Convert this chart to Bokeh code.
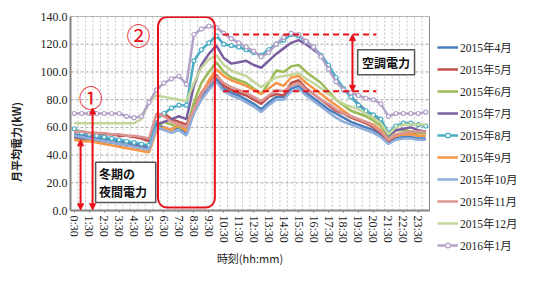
from bokeh.plotting import figure
from bokeh.models import (Range1d, FixedTicker, NumeralTickFormatter, Legend,
                          BoxAnnotation, Label, Arrow, NormalHead)
from bokeh.embed import file_html
from bokeh.resources import INLINE

times = ["0:30", "1:00", "1:30", "2:00", "2:30", "3:00", "3:30", "4:00", "4:30", "5:00",
         "5:30", "6:00", "6:30", "7:00", "7:30", "8:00", "8:30", "9:00", "9:30", "10:00",
         "10:30", "11:00", "11:30", "12:00", "12:30", "13:00", "13:30", "14:00", "14:30", "15:00",
         "15:30", "16:00", "16:30", "17:00", "17:30", "18:00", "18:30", "19:00", "19:30", "20:00",
         "20:30", "21:00", "21:30", "22:00", "22:30", "23:00", "23:30", "24:00"]

months = ["2015年4月", "2015年5月", "2015年6月", "2015年7月", "2015年8月",
          "2015年9月", "2015年10月", "2015年11月", "2015年12月", "2016年1月"]

apr = [55, 54, 53, 52, 52, 51, 50, 49, 48, 47, 46,
       62, 60, 58, 60, 56, 72, 82, 88, 95,
       88, 85, 83, 80, 77, 73, 78, 82, 82, 88, 90, 85,
       81, 77, 73, 70, 67, 64, 62, 60, 58, 55, 49, 52, 53, 53, 52, 52]
may = [57, 57, 56, 56, 55, 55, 54, 54, 53, 52, 50,
       68, 70, 66, 64, 62, 74, 85, 92, 98,
       90, 87, 85, 83, 80, 77, 82, 84, 83, 92, 94, 88,
       84, 80, 76, 72, 70, 67, 65, 63, 60, 56, 50, 54, 55, 55, 56, 56]
jun = [52, 52, 51, 50, 50, 49, 48, 47, 46, 45, 44,
       60, 64, 62, 60, 58, 78, 92, 100, 107,
       100, 96, 94, 92, 88, 84, 92, 101, 100, 104, 105, 100,
       96, 92, 86, 80, 76, 72, 70, 68, 65, 61, 53, 58, 58, 57, 56, 56]
jul = [53, 52, 52, 51, 50, 49, 48, 47, 47, 46, 45,
       62, 64, 66, 68, 66, 90, 105, 113, 119,
       110, 106, 107, 108, 105, 103, 108, 113, 117, 121, 123, 120,
       116, 112, 104, 95, 88, 82, 77, 72, 68, 64, 54, 58, 59, 60, 58, 57]
aug = [59, 56, 55, 54, 53, 52, 51, 50, 49, 48, 47,
       66, 70, 74, 76, 76, 108, 116, 121, 126,
       120, 119, 118, 116, 114, 112, 116, 120, 123, 127, 126, 122,
       118, 112, 105, 96, 88, 82, 76, 72, 69, 66, 56, 61, 63, 63, 62, 61]
sep = [51, 50, 50, 49, 48, 47, 46, 45, 44, 43, 42,
       58, 60, 58, 62, 57, 72, 84, 94, 102,
       97, 94, 92, 90, 87, 84, 88, 92, 90, 96, 97, 92,
       88, 84, 80, 76, 72, 68, 66, 64, 62, 58, 51, 54, 55, 55, 54, 54]
oct_ = [54, 53, 52, 51, 50, 49, 48, 47, 46, 45, 44,
        60, 58, 56, 58, 54, 70, 80, 87, 93,
        86, 83, 81, 78, 75, 71, 76, 80, 80, 86, 88, 83,
        79, 75, 71, 67, 64, 62, 60, 58, 56, 53, 48, 51, 52, 52, 51, 51]
nov = [57, 57, 56, 56, 56, 55, 55, 54, 54, 53, 52,
       70, 68, 64, 62, 60, 73, 84, 91, 97,
       92, 89, 87, 85, 82, 79, 83, 87, 86, 90, 92, 87,
       84, 80, 77, 73, 70, 68, 66, 64, 61, 57, 51, 55, 56, 57, 57, 57]
dec = [63, 63, 63, 63, 63, 63, 63, 63, 63, 66, 78,
       83, 82, 81, 80, 79, 92, 103, 109, 112,
       105, 101, 99, 97, 93, 89, 93, 96, 97, 98, 99, 95,
       92, 88, 84, 80, 77, 75, 73, 70, 67, 63, 55, 60, 62, 62, 62, 62]
jan = [70, 70, 70, 70, 70, 70, 70, 68, 67, 68, 78,
       87, 92, 95, 97, 91, 127, 131, 133, 132,
       128, 124, 121, 118, 115, 111, 114, 120, 125, 128, 127, 122,
       118, 111, 102, 93, 87, 85, 83, 81, 80, 77, 68, 70, 70, 70, 70, 71]

series = [apr, may, jun, jul, aug, sep, oct_, nov, dec, jan]
colors = ["#4A7DBA", "#C0504D", "#9BBB59", "#7B5FA0", "#4BACC6",
          "#F79646", "#8FAEDB", "#DA9694", "#C3D69B", "#B3A2C7"]
with_markers = [False, False, False, False, True, False, False, False, False, True]
y_ticks = [0, 20, 40, 60, 80, 100, 120, 140]

RED = "#E8101A"
SERIF = "'Liberation Serif', 'Noto Sans CJK JP'"
CJK = "Noto Sans CJK JP"

x = list(range(len(times)))
x_lo, x_hi = -0.5, len(times) - 0.5
y_lo, y_hi = y_ticks[0], y_ticks[-1]

# frame covers the plot area plus the legend/tick-label zone (so the legend is not clipped)
p = figure(width=518, height=267, output_backend="svg", toolbar_location=None,
           x_range=Range1d(x_lo, 59.4), y_range=Range1d(-41.1, y_hi),
           min_border_left=70, min_border_right=0, min_border_top=16, min_border_bottom=0)
p.background_fill_color = "white"
p.border_fill_color = "white"
p.outline_line_color = None
p.xgrid.visible = False
p.ygrid.visible = False

# gridlines inside the plot area
p.segment(x0=[v - 0.5 for v in x[1:]], y0=y_lo, x1=[v - 0.5 for v in x[1:]], y1=y_hi,
          line_color="#C4C4C4", line_width=1, line_dash="2 2")
p.segment(x0=x_lo, y0=y_ticks[1:], x1=x_hi, y1=y_ticks[1:],
          line_color="#A8A8A8", line_width=1, line_dash="3 2")
p.add_layout(BoxAnnotation(left=x_lo, right=x_hi, bottom=y_lo, top=y_hi, fill_alpha=0,
                           line_color="#8A8A8A", line_alpha=1, line_width=1))

# axes
xa, ya = p.xaxis[0], p.yaxis[0]
xa.fixed_location = 0
xa.bounds = (x_lo, x_hi)
ya.bounds = (y_lo, y_hi)
xa.ticker = FixedTicker(ticks=[i for i in x if i % 2 == 0])
xa.major_label_overrides = {i: times[i] for i in x if i % 2 == 0}
xa.major_label_orientation = "vertical"
ya.ticker = FixedTicker(ticks=y_ticks)
ya.formatter = NumeralTickFormatter(format="0.0")
for ax in (xa, ya):
    ax.axis_line_color = "#808080"
    ax.axis_line_width = 2
    ax.major_tick_line_color = "#808080"
    ax.minor_tick_line_color = None
    ax.major_label_text_font = SERIF
    ax.major_label_text_font_size = "12px"
    ax.major_label_text_color = "#222222"
    ax.major_label_standoff = 3
    ax.axis_label_text_font = CJK
    ax.axis_label_text_font_size = "11px"
    ax.axis_label_text_color = "#222222"
    ax.axis_label_text_font_style = "normal"
xa.major_tick_out = 2
xa.major_tick_in = 0
ya.major_tick_out = 0
ya.major_tick_in = 0
xa.axis_label = "時刻(hh:mm)"
xa.axis_label_standoff = 4
ya.axis_label = "月平均電力(kW)"
ya.axis_label_text_font_style = "bold"
ya.axis_label_standoff = 14

# series
items = []
for name, ys, col, mk in zip(months, series, colors, with_markers):
    rs = [p.line(x, ys, line_color=col, line_width=2.5)]
    if mk:
        rs.append(p.scatter(x, ys, marker="circle", size=4, line_color=col,
                            fill_color="white", line_width=1.2))
    items.append((name, rs))

legend = Legend(items=items, location=(367, 12), orientation="vertical",
                border_line_color=None, background_fill_alpha=0,
                label_text_font=SERIF, label_text_font_size="11.5px",
                label_text_color="#222222", glyph_width=21, glyph_height=12,
                label_height=21, spacing=1, padding=0, margin=0, label_standoff=2)
p.add_layout(legend, "center")

# annotations
p.add_layout(BoxAnnotation(left=11.2, right=18.8, bottom=2.2, top=139.6,
                           fill_alpha=0, line_color=RED, line_alpha=1, line_width=2,
                           border_radius=9))
p.add_layout(Label(x=8.6, y=127, text="②", text_color=RED, text_font=CJK,
                   text_font_size="24px", text_align="center", text_baseline="middle"))
p.add_layout(Label(x=2.2, y=82, text="①", text_color=RED, text_font=CJK,
                   text_font_size="24px", text_align="center", text_baseline="middle"))

for ax_x, top in [(0.85, 51), (2.45, 74)]:
    p.add_layout(Arrow(x_start=ax_x, y_start=0.5, x_end=ax_x, y_end=top,
                       line_color=RED, line_width=2,
                       start=NormalHead(size=6, fill_color=RED, line_color=RED),
                       end=NormalHead(size=6, fill_color=RED, line_color=RED)))
p.add_layout(Arrow(x_start=37.2, y_start=86, x_end=37.2, y_end=127,
                   line_color=RED, line_width=2,
                   start=NormalHead(size=6, fill_color=RED, line_color=RED),
                   end=NormalHead(size=6, fill_color=RED, line_color=RED)))

p.segment(x0=[19.9, 19.9], y0=[127, 86], x1=[40.4, 40.4], y1=[127, 86],
          line_color=RED, line_width=2, line_dash="6 4")

p.add_layout(BoxAnnotation(left=2.86, right=10.9, bottom=5.8, top=34.8,
                           fill_color="white", fill_alpha=1, line_color="#555555",
                           line_alpha=1, line_width=1.5))
p.add_layout(Label(x=3.3, y=26.5, text="冬期の", text_font=CJK, text_font_size="12px",
                   text_font_style="bold", text_baseline="middle", text_color="#111111"))
p.add_layout(Label(x=3.3, y=13.8, text="夜間電力", text_font=CJK, text_font_size="12px",
                   text_font_style="bold", text_baseline="middle", text_color="#111111"))

p.add_layout(BoxAnnotation(left=37.9, right=45.5, bottom=97.9, top=116,
                           fill_color="white", fill_alpha=1, line_color="#555555",
                           line_alpha=1, line_width=1.5))
p.add_layout(Label(x=41.7, y=107, text="空調電力", text_font=CJK, text_font_size="12px",
                   text_font_style="bold", text_align="center", text_baseline="middle",
                   text_color="#111111"))

open("out.html", "w").write(file_html(p, INLINE))
